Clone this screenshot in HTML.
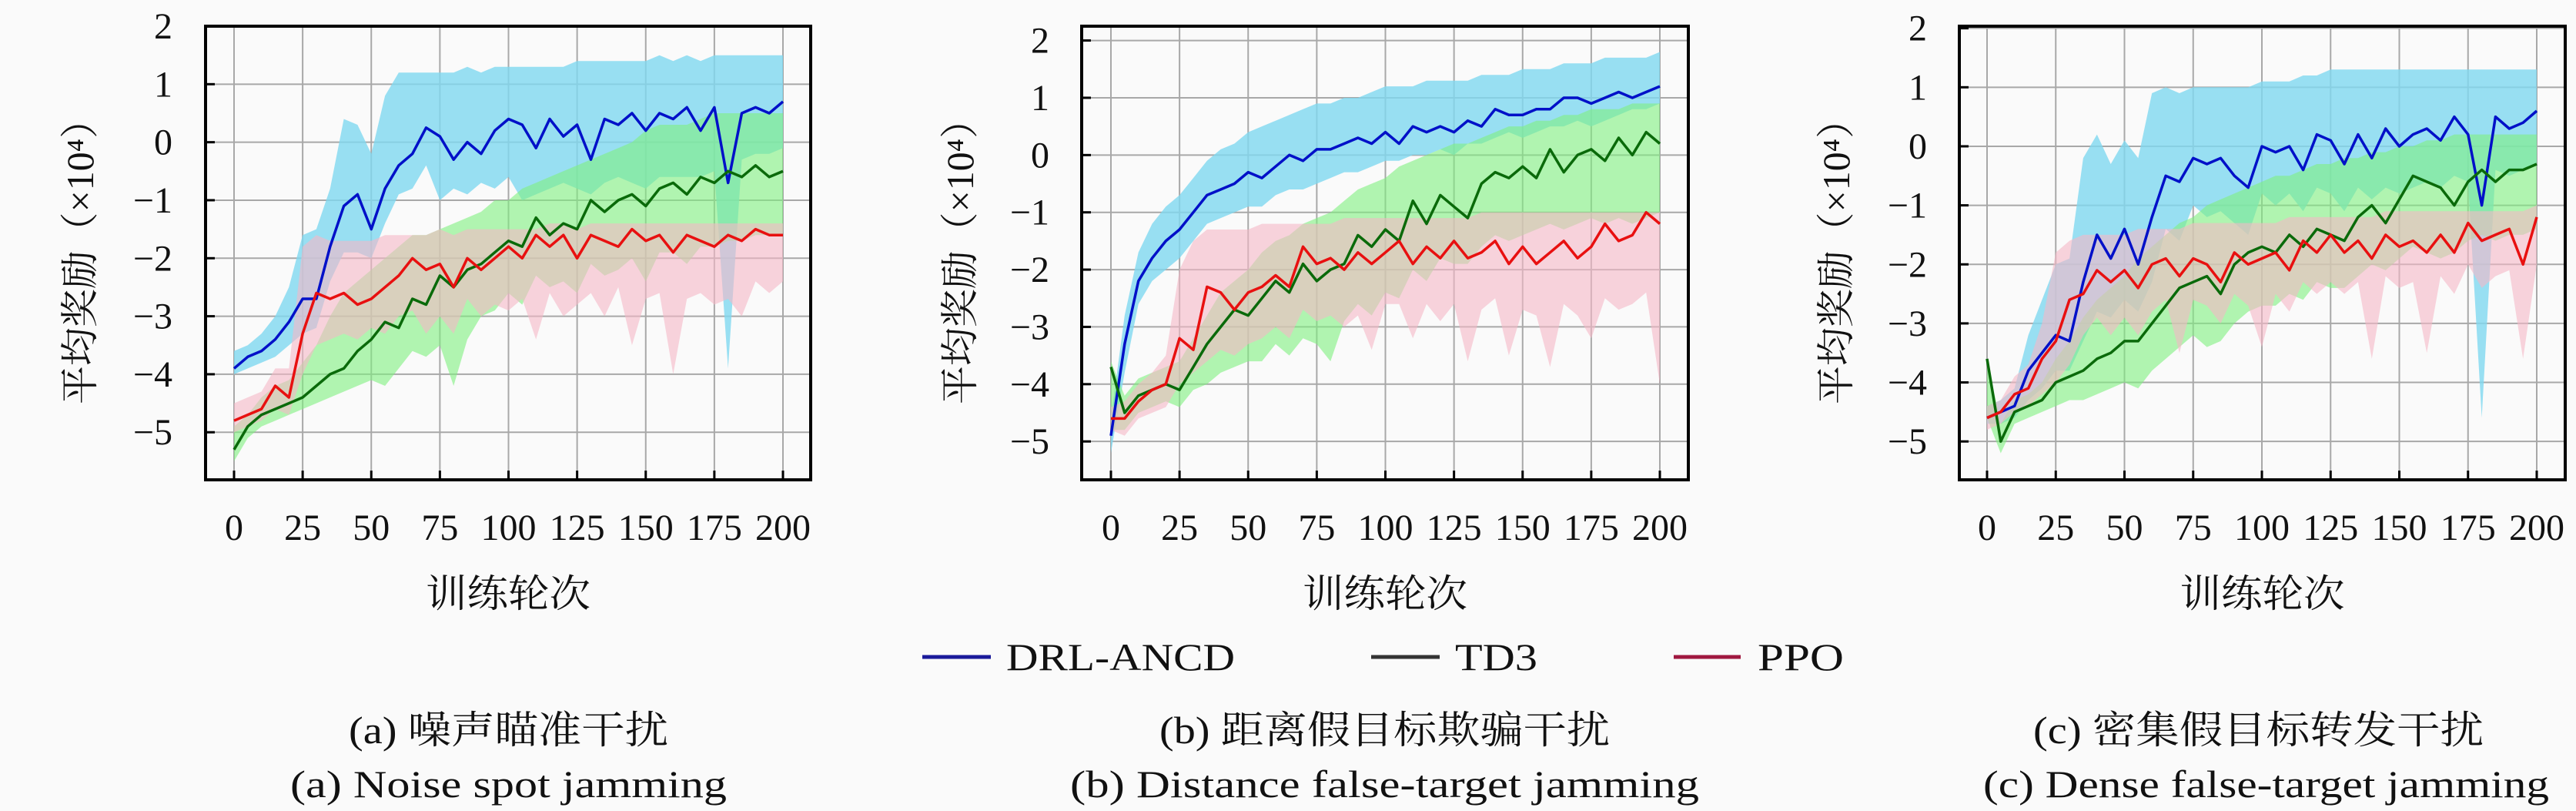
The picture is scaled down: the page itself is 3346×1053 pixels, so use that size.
<!DOCTYPE html>
<html><head><meta charset="utf-8">
<style>
html,body{margin:0;padding:0;background:#fafafa;}
svg{display:block;}
text{font-family:"Liberation Serif","Noto Serif CJK SC",serif;fill:#111;}
</style></head>
<body>
<svg id="fig" width="3346" height="1053" viewBox="0 0 3346 1053" xmlns="http://www.w3.org/2000/svg">
<rect width="3346" height="1053" fill="#fafafa"/>
<g id="plots"></g>
<g>
  <g>
    <line x1="1198" y1="853" x2="1287" y2="853" stroke="#1a1a9a" stroke-width="5"/>
    <text x="1307" y="870" font-size="50" textLength="297" lengthAdjust="spacingAndGlyphs">DRL-ANCD</text>
  </g>
  <g>
    <line x1="1781" y1="853" x2="1870" y2="853" stroke="#333" stroke-width="5"/>
    <text x="1890" y="870" font-size="50" textLength="107" lengthAdjust="spacingAndGlyphs">TD3</text>
  </g>
  <g>
    <line x1="2174" y1="853" x2="2261" y2="853" stroke="#a01840" stroke-width="5"/>
    <text x="2283" y="870" font-size="50" textLength="112" lengthAdjust="spacingAndGlyphs">PPO</text>
  </g>
</g>
<g font-size="50">
  <text x="453" y="965" textLength="415" lengthAdjust="spacingAndGlyphs">(a) 噪声瞄准干扰</text>
  <text x="377" y="1035" textLength="567" lengthAdjust="spacingAndGlyphs">(a) Noise spot jamming</text>
  <text x="1506" y="965" textLength="585" lengthAdjust="spacingAndGlyphs">(b) 距离假目标欺骗干扰</text>
  <text x="1390" y="1035" textLength="817" lengthAdjust="spacingAndGlyphs">(b) Distance false-target jamming</text>
  <text x="2641" y="965" textLength="585" lengthAdjust="spacingAndGlyphs">(c) 密集假目标转发干扰</text>
  <text x="2576" y="1035" textLength="735" lengthAdjust="spacingAndGlyphs">(c) Dense false-target jamming</text>
</g>
</svg>
<script>
// episodes sampled every 5
const episodes = [0,5,10,15,20,25,30,35,40,45,50,55,60,65,70,75,80,85,90,95,100,105,110,115,120,125,130,135,140,145,150,155,160,165,170,175,180,185,190,195,200];
const xTicks = [0,25,50,75,100,125,150,175,200];
const yTicks = [-5,-4,-3,-2,-1,0,1,2];

// Plot A
const a_drl = [-3.9,-3.7,-3.6,-3.4,-3.1,-2.7,-2.7,-1.8,-1.1,-0.9,-1.5,-0.8,-0.4,-0.2,0.25,0.1,-0.3,0.0,-0.2,0.2,0.4,0.3,-0.1,0.4,0.1,0.3,-0.3,0.4,0.3,0.5,0.2,0.5,0.4,0.6,0.2,0.6,-0.7,0.5,0.6,0.5,0.7];
const a_drl_hi = [-3.6,-3.5,-3.3,-3.0,-2.5,-1.6,-1.5,-0.8,0.4,0.3,-0.2,0.8,1.2,1.2,1.2,1.2,1.2,1.3,1.2,1.3,1.3,1.3,1.3,1.3,1.3,1.4,1.4,1.4,1.4,1.4,1.4,1.5,1.4,1.5,1.4,1.5,1.5,1.5,1.5,1.5,1.5];
const a_drl_lo = [-4.0,-3.9,-3.8,-3.7,-3.5,-3.3,-3.2,-2.4,-1.9,-1.9,-2.0,-1.4,-0.9,-0.8,-0.4,-1.0,-0.8,-0.9,-0.7,-0.8,-0.6,-1.0,-0.9,-0.8,-0.7,-0.8,-0.9,-0.7,-0.6,-0.7,-0.8,-0.6,-0.6,-0.6,-0.6,-0.5,-3.9,-0.3,-0.2,-0.2,-0.1];
const a_td3 = [-5.3,-4.9,-4.7,-4.6,-4.5,-4.4,-4.2,-4.0,-3.9,-3.6,-3.4,-3.1,-3.2,-2.7,-2.8,-2.3,-2.5,-2.2,-2.1,-1.9,-1.7,-1.8,-1.3,-1.6,-1.4,-1.5,-1.0,-1.2,-1.0,-0.9,-1.1,-0.8,-0.7,-0.9,-0.6,-0.7,-0.5,-0.6,-0.4,-0.6,-0.5];
const a_td3_hi = [-4.9,-4.7,-4.4,-4.2,-4.1,-3.8,-3.5,-3.0,-2.6,-2.4,-2.2,-2.0,-1.8,-1.6,-1.6,-1.5,-1.4,-1.3,-1.2,-1.0,-1.0,-0.8,-0.7,-0.6,-0.5,-0.4,-0.3,-0.2,-0.1,0.0,0.2,0.3,0.3,0.3,0.4,0.5,0.5,0.5,0.5,0.5,0.5];
const a_td3_lo = [-5.5,-5.1,-4.9,-4.8,-4.7,-4.6,-4.5,-4.4,-4.3,-4.2,-4.1,-4.2,-3.9,-3.6,-3.7,-3.5,-4.2,-3.4,-3.0,-2.9,-2.6,-2.8,-2.3,-2.5,-2.4,-2.6,-2.1,-2.3,-2.2,-2.0,-2.4,-1.9,-1.9,-2.1,-1.8,-1.8,-1.7,-1.7,-1.6,-1.6,-1.6];
const a_ppo = [-4.8,-4.7,-4.6,-4.2,-4.4,-3.3,-2.6,-2.7,-2.6,-2.8,-2.7,-2.5,-2.3,-2.0,-2.2,-2.1,-2.5,-2.0,-2.2,-2.0,-1.8,-2.0,-1.6,-1.8,-1.6,-2.0,-1.6,-1.7,-1.8,-1.5,-1.7,-1.6,-1.9,-1.6,-1.7,-1.8,-1.6,-1.7,-1.5,-1.6,-1.6];
const a_ppo_hi = [-4.5,-4.4,-4.3,-3.9,-3.9,-1.8,-1.6,-1.7,-1.7,-1.7,-1.7,-1.6,-1.6,-1.6,-1.6,-1.5,-1.6,-1.5,-1.5,-1.5,-1.5,-1.5,-1.5,-1.4,-1.4,-1.5,-1.4,-1.4,-1.4,-1.4,-1.4,-1.4,-1.4,-1.4,-1.4,-1.4,-1.4,-1.4,-1.4,-1.4,-1.4];
const a_ppo_lo = [-5.0,-4.9,-4.8,-4.6,-4.7,-4.0,-3.5,-3.4,-3.3,-3.4,-3.2,-3.3,-3.0,-2.9,-3.3,-3.0,-3.3,-2.7,-3.0,-2.8,-2.9,-2.7,-3.4,-2.6,-3.0,-2.8,-2.6,-3.0,-2.5,-3.5,-2.7,-2.6,-4.0,-2.7,-2.6,-2.8,-2.7,-3.0,-2.4,-2.6,-2.4];

// Plot B
const b_drl = [-4.9,-3.3,-2.2,-1.8,-1.5,-1.3,-1.0,-0.7,-0.6,-0.5,-0.3,-0.4,-0.2,0.0,-0.1,0.1,0.1,0.2,0.3,0.2,0.4,0.2,0.5,0.4,0.5,0.4,0.6,0.5,0.8,0.7,0.7,0.8,0.8,1.0,1.0,0.9,1.0,1.1,1.0,1.1,1.2];
const b_drl_hi = [-4.6,-2.8,-1.7,-1.2,-0.9,-0.7,-0.4,-0.1,0.1,0.2,0.4,0.5,0.6,0.7,0.8,0.9,0.9,1.0,1.0,1.1,1.2,1.2,1.2,1.3,1.3,1.3,1.3,1.4,1.4,1.4,1.5,1.5,1.5,1.6,1.6,1.6,1.7,1.7,1.7,1.7,1.8];
const b_drl_lo = [-5.2,-3.8,-2.6,-2.2,-2.0,-1.8,-1.5,-1.2,-1.1,-1.0,-0.9,-0.9,-0.7,-0.6,-0.6,-0.5,-0.4,-0.3,-0.3,-0.2,-0.1,-0.1,0.0,0.0,0.1,0.0,0.2,0.2,0.3,0.4,0.3,0.4,0.5,0.5,0.6,0.5,0.6,0.7,0.8,0.8,0.9];
const b_td3 = [-3.7,-4.5,-4.2,-4.1,-4.0,-4.1,-3.7,-3.3,-3.0,-2.7,-2.8,-2.5,-2.2,-2.4,-1.9,-2.2,-2.0,-1.9,-1.4,-1.6,-1.3,-1.5,-0.8,-1.2,-0.7,-0.9,-1.1,-0.5,-0.3,-0.4,-0.2,-0.4,0.1,-0.3,0.0,0.1,-0.1,0.3,0.0,0.4,0.2];
const b_td3_hi = [-3.6,-4.2,-3.9,-3.8,-3.7,-3.6,-3.2,-2.8,-2.4,-2.2,-2.0,-1.7,-1.5,-1.4,-1.2,-1.1,-1.0,-0.8,-0.6,-0.5,-0.4,-0.2,-0.1,0.0,0.1,0.2,0.2,0.3,0.4,0.5,0.5,0.6,0.6,0.7,0.7,0.8,0.8,0.8,0.9,0.9,0.9];
const b_td3_lo = [-4.8,-4.8,-4.5,-4.4,-4.3,-4.4,-4.1,-4.0,-3.8,-3.7,-3.6,-3.6,-3.3,-3.5,-3.2,-3.3,-3.6,-2.9,-2.6,-2.8,-2.4,-2.5,-2.0,-2.2,-1.8,-1.9,-1.9,-1.6,-1.4,-1.5,-1.4,-1.3,-1.2,-1.3,-1.2,-1.1,-1.2,-1.1,-1.2,-1.1,-1.0];
const b_ppo = [-4.6,-4.6,-4.3,-4.1,-4.0,-3.2,-3.4,-2.3,-2.4,-2.7,-2.4,-2.3,-2.1,-2.3,-1.6,-1.9,-1.8,-2.0,-1.7,-1.9,-1.7,-1.5,-1.9,-1.6,-1.8,-1.5,-1.8,-1.7,-1.5,-1.9,-1.6,-1.9,-1.7,-1.5,-1.8,-1.6,-1.2,-1.5,-1.4,-1.0,-1.2];
const b_ppo_hi = [-4.4,-4.3,-4.0,-3.8,-3.5,-2.0,-1.5,-1.3,-1.3,-1.3,-1.3,-1.2,-1.2,-1.2,-1.2,-1.2,-1.2,-1.1,-1.1,-1.1,-1.1,-1.1,-1.1,-1.1,-1.1,-1.1,-1.1,-1.0,-1.0,-1.0,-1.0,-1.0,-1.0,-1.0,-1.0,-1.0,-1.0,-1.0,-1.0,-1.0,-1.0];
const b_ppo_lo = [-4.8,-4.9,-4.6,-4.5,-4.4,-4.0,-3.8,-3.6,-3.4,-3.5,-3.3,-3.2,-3.0,-3.2,-2.7,-2.9,-2.8,-3.0,-2.8,-3.4,-2.6,-2.6,-3.2,-2.6,-2.9,-2.6,-3.6,-2.7,-2.5,-3.5,-2.7,-2.8,-3.7,-2.6,-2.8,-3.2,-2.5,-2.7,-2.6,-2.4,-4.0];

// Plot C
const c_drl = [-4.6,-4.5,-4.4,-3.8,-3.5,-3.2,-3.3,-2.3,-1.5,-1.9,-1.4,-2.0,-1.2,-0.5,-0.6,-0.2,-0.3,-0.2,-0.5,-0.7,0.0,-0.1,0.0,-0.4,0.2,0.1,-0.3,0.2,-0.2,0.3,0.0,0.2,0.3,0.1,0.5,0.2,-1.0,0.5,0.3,0.4,0.6];
const c_drl_hi = [-4.4,-4.3,-4.1,-3.2,-2.6,-2.0,-1.9,-0.2,0.2,-0.3,0.1,-0.2,0.9,1.0,0.9,1.0,1.0,1.0,1.0,1.0,1.1,1.1,1.1,1.2,1.2,1.3,1.3,1.3,1.3,1.3,1.3,1.3,1.3,1.3,1.3,1.3,1.3,1.3,1.3,1.3,1.3];
const c_drl_lo = [-4.7,-4.7,-4.6,-4.3,-4.1,-3.8,-3.8,-3.3,-2.8,-2.9,-2.6,-2.8,-2.3,-1.4,-1.6,-1.0,-1.2,-1.1,-1.3,-1.5,-0.8,-1.0,-0.8,-1.1,-0.7,-0.8,-1.1,-0.7,-0.9,-0.7,-0.8,-0.7,-0.6,-0.7,-0.5,-0.6,-4.6,-0.4,-0.5,-0.4,-0.3];
const c_td3 = [-3.6,-5.0,-4.5,-4.4,-4.3,-4.0,-3.9,-3.8,-3.6,-3.5,-3.3,-3.3,-3.0,-2.7,-2.4,-2.3,-2.2,-2.5,-2.0,-1.8,-1.7,-1.8,-1.5,-1.7,-1.4,-1.5,-1.6,-1.2,-1.0,-1.3,-0.9,-0.5,-0.6,-0.7,-1.0,-0.6,-0.4,-0.6,-0.4,-0.4,-0.3];
const c_td3_hi = [-3.6,-4.7,-4.3,-4.2,-4.0,-3.6,-3.3,-2.9,-2.6,-2.4,-2.2,-1.9,-1.7,-1.5,-1.3,-1.2,-1.0,-0.9,-0.8,-0.7,-0.6,-0.5,-0.5,-0.4,-0.3,-0.3,-0.2,-0.2,-0.1,-0.1,0.0,0.0,0.1,0.1,0.2,0.2,0.2,0.2,0.2,0.2,0.2];
const c_td3_lo = [-4.6,-5.2,-4.7,-4.6,-4.5,-4.4,-4.3,-4.3,-4.2,-4.1,-4.0,-4.1,-3.8,-3.6,-3.4,-3.2,-3.4,-3.3,-3.0,-2.8,-2.7,-2.7,-2.5,-2.6,-2.3,-2.4,-2.4,-2.2,-2.0,-2.1,-1.9,-1.7,-1.8,-1.9,-1.8,-1.6,-1.5,-1.6,-1.5,-1.5,-1.4];
const c_ppo = [-4.6,-4.5,-4.2,-4.1,-3.6,-3.3,-2.6,-2.5,-2.1,-2.3,-2.1,-2.4,-2.0,-1.9,-2.2,-1.9,-2.0,-2.3,-1.8,-2.0,-1.9,-1.8,-2.1,-1.6,-1.8,-1.5,-1.8,-1.6,-1.9,-1.5,-1.7,-1.6,-1.8,-1.5,-1.8,-1.3,-1.6,-1.5,-1.4,-2.0,-1.2];
const c_ppo_hi = [-4.4,-4.3,-3.9,-3.7,-3.0,-1.8,-1.6,-1.5,-1.5,-1.5,-1.5,-1.4,-1.4,-1.4,-1.4,-1.3,-1.3,-1.3,-1.3,-1.3,-1.3,-1.3,-1.2,-1.2,-1.2,-1.2,-1.2,-1.2,-1.2,-1.1,-1.1,-1.1,-1.1,-1.1,-1.1,-1.1,-1.1,-1.1,-1.1,-1.1,-1.0];
const c_ppo_lo = [-4.8,-4.7,-4.5,-4.4,-4.2,-4.0,-3.7,-3.2,-2.9,-3.2,-2.9,-3.2,-2.8,-2.6,-3.5,-2.6,-2.7,-3.0,-2.5,-2.7,-3.4,-2.5,-2.8,-2.3,-2.5,-2.3,-2.5,-2.3,-3.6,-2.2,-2.4,-2.3,-3.5,-2.2,-2.5,-2.0,-2.4,-2.2,-2.1,-3.6,-2.0];

const NS = "http://www.w3.org/2000/svg";
function mk(tag, attrs, parent){
  const e = document.createElementNS(NS, tag);
  for (const k in attrs) e.setAttribute(k, attrs[k]);
  parent.appendChild(e);
  return e;
}
const panels = [
  {id:"a", L:267, R:1053, T:34, B:623, x0:304, x1:1017, yTop:2.0, yBot:-5.82, tickR:224, yTitleX:103,
   s:[[a_drl,a_drl_hi,a_drl_lo],[a_td3,a_td3_hi,a_td3_lo],[a_ppo,a_ppo_hi,a_ppo_lo]]},
  {id:"b", L:1405, R:2193, T:34, B:623, x0:1443, x1:2156, yTop:2.25, yBot:-5.67, tickR:1363, yTitleX:1246,
   s:[[b_drl,b_drl_hi,b_drl_lo],[b_td3,b_td3_hi,b_td3_lo],[b_ppo,b_ppo_hi,b_ppo_lo]]},
  {id:"c", L:2545, R:3332, T:34, B:623, x0:2581, x1:3295, yTop:2.035, yBot:-5.65, tickR:2503, yTitleX:2384,
   s:[[c_drl,c_drl_hi,c_drl_lo],[c_td3,c_td3_hi,c_td3_lo],[c_ppo,c_ppo_hi,c_ppo_lo]]}
];
const names = ["drl-ancd","td3","ppo"];
const bandColors = ["#7fd8f0","#7ff07f","#f5b8c6"];
const bandOps = [0.8,0.6,0.6];
const lineColors = ["#0010c8","#0a6a0a","#e81010"];
const root = document.getElementById("plots");
panels.forEach(p=>{
  const xs = v => p.x0 + (v/200)*(p.x1-p.x0);
  const ys = v => p.T + (p.yTop - v)/(p.yTop - p.yBot)*(p.B-p.T);
  const g = mk("g", {}, root);
  
  
  mk("rect",{x:p.L,y:p.T,width:p.R-p.L,height:p.B-p.T,fill:"#fafafa"},g);
  const grid = mk("g",{stroke:"#a8a8a8","stroke-width":2},g);
  
  
  xTicks.forEach(t=>{ mk("line",{x1:xs(t),x2:xs(t),y1:p.T,y2:p.B},grid); });
  yTicks.forEach(t=>{ const y=ys(t); if(y>p.T+2&&y<p.B) mk("line",{x1:p.L,x2:p.R,y1:y,y2:y},grid); });
  p.s.forEach((ser,i)=>{
    const hi = ser[1], lo = ser[2];
    let d = "M";
    episodes.forEach((e,j)=>{ d += xs(e).toFixed(1)+","+ys(hi[j]).toFixed(1)+" L"; });
    for(let j=episodes.length-1;j>=0;j--){ d += xs(episodes[j]).toFixed(1)+","+ys(lo[j]).toFixed(1)+(j>0?" L":" Z"); }
    const band = mk("path",{d:d,fill:bandColors[i],"fill-opacity":bandOps[i]},g);
    
    
  });
  p.s.forEach((ser,i)=>{
    const pts = episodes.map((e,j)=>xs(e).toFixed(1)+","+ys(ser[0][j]).toFixed(1)).join(" ");
    const ln = mk("polyline",{points:pts,fill:"none",stroke:lineColors[i],"stroke-width":3.5,"stroke-linejoin":"round"},g);
    
    
  });
  const fr = mk("rect",{x:p.L,y:p.T,width:p.R-p.L,height:p.B-p.T,fill:"none",stroke:"#000","stroke-width":4},g);
  
  
  const xa = mk("g",{"font-size":48,"text-anchor":"middle"},g);
  
  
  xTicks.forEach(t=>{
    mk("line",{x1:xs(t),x2:xs(t),y1:p.B,y2:p.B-12,stroke:"#000","stroke-width":3},xa);
    const tx = mk("text",{x:xs(t),y:701},xa); tx.textContent = t;
  });
  const ya = mk("g",{"font-size":48,"text-anchor":"end"},g);
  
  
  yTicks.forEach(t=>{
    const y = ys(t);
    mk("line",{x1:p.L,x2:p.L+12,y1:y,y2:y,stroke:"#000","stroke-width":3},ya);
    const tx = mk("text",{x:p.tickR,y:y+16},ya); tx.textContent = t<0 ? "\u2212"+(-t) : t;
  });
  const xt = mk("text",{x:(p.L+p.R)/2-107,y:788,"font-size":50,textLength:214,lengthAdjust:"spacingAndGlyphs"},g);
  xt.textContent = "训练轮次";
  
  
  const yt = mk("text",{x:-197,y:0,"font-size":50,textLength:395,lengthAdjust:"spacingAndGlyphs",transform:"translate("+(p.yTitleX+18)+",328) rotate(-90)"},g);
  yt.textContent = "平均奖励（×10⁴）";
  
  
});
</script>
</body></html>
